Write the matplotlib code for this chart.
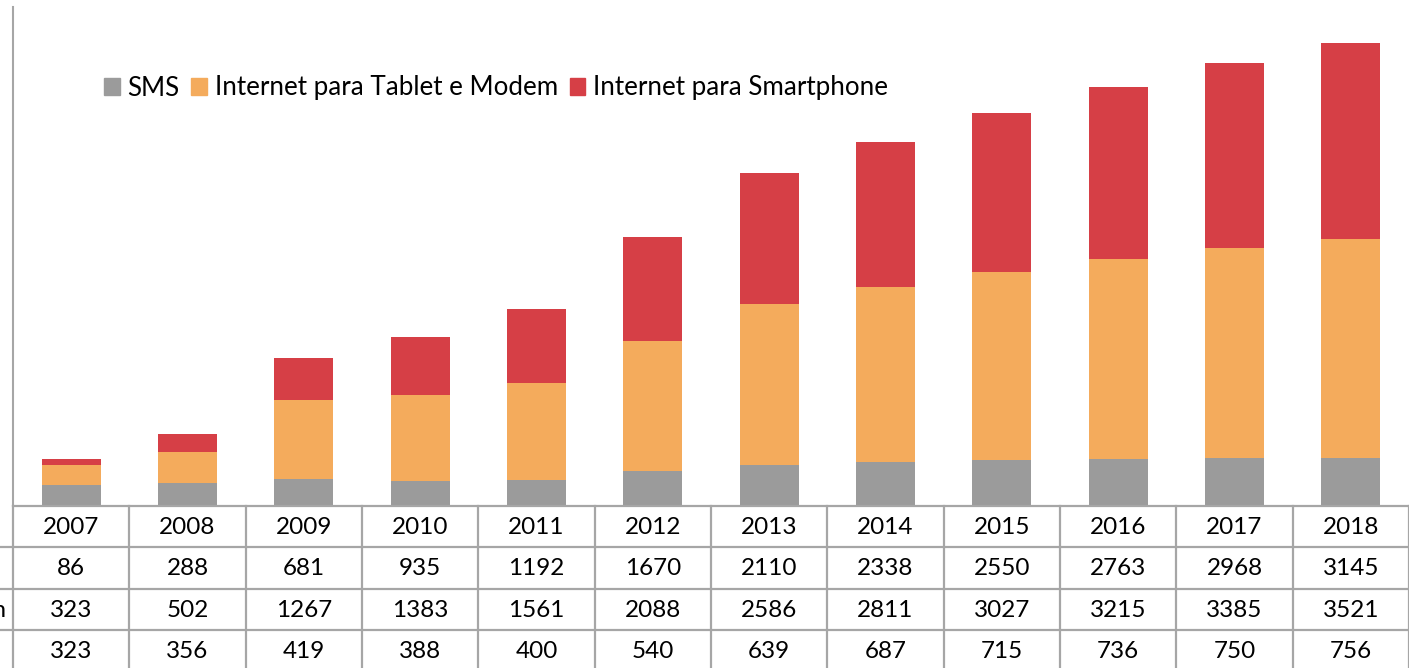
import matplotlib
matplotlib.use("Agg")
import matplotlib.pyplot as plt
from matplotlib.patches import Patch

plt.rcParams['font.family'] = ['Lato', 'DejaVu Sans']

# dados
anos = ["2007", "2008", "2009", "2010", "2011", "2012",
        "2013", "2014", "2015", "2016", "2017", "2018"]
smartphone = [86, 288, 681, 935, 1192, 1670, 2110, 2338, 2550, 2763, 2968, 3145]
tablet_modem = [323, 502, 1267, 1383, 1561, 2088, 2586, 2811, 3027, 3215, 3385, 3521]
sms = [323, 356, 419, 388, 400, 540, 639, 687, 715, 736, 750, 756]
series_names = ["SMS", "Internet para Tablet e Modem", "Internet para Smartphone"]

cor_sms = "#9b9b9b"
cor_tablet = "#f4ab5c"
cor_smart = "#d63f46"
cor_grade = "#a6a6a6"

W, H = 1409, 668
fig = plt.figure(figsize=(W / 100, H / 100), dpi=100)

# eixo em pixels: esquerda 13, base 505, topo 7
ax = fig.add_axes([13 / W, (H - 505) / H, (W - 13) / W, (505 - 7) / H])
x = list(range(len(anos)))
bw = 0.51
ax.bar(x, sms, bw, color=cor_sms)
ax.bar(x, tablet_modem, bw, bottom=sms, color=cor_tablet)
base3 = [a + b for a, b in zip(sms, tablet_modem)]
ax.bar(x, smartphone, bw, bottom=base3, color=cor_smart)

ax.set_xlim(-0.5, len(anos) - 0.5)
ax.set_ylim(0, 8000)
ax.set_xticks([])
ax.set_yticks([])
for s in ["top", "right", "bottom"]:
    ax.spines[s].set_visible(False)
ax.spines["left"].set_color(cor_grade)
ax.spines["left"].set_linewidth(1.5)

# legenda
handles = [Patch(color=c) for c in (cor_sms, cor_tablet, cor_smart)]
fig.legend(handles, series_names, loc="center left",
           bbox_to_anchor=(104 / W, (H - 88) / H), ncol=3, frameon=False,
           fontsize=18.7, handlelength=0.6, handleheight=0.6,
           handletextpad=0.3, columnspacing=0.45, borderaxespad=0,
           borderpad=0)

# tabela de dados (em pixels da figura)
def fx(p):
    return p / W
def fy(p):
    return (H - p) / H

col_w = (W - 13) / len(anos)
row_y = [505.5, 547, 588.5, 630, 671.5]
linhas = [anos, smartphone, tablet_modem, sms]
lw = 1.6
fig.add_artist(plt.Line2D([fx(13), 1], [fy(row_y[0])] * 2, color=cor_grade, lw=lw))
for yy in row_y[1:4]:
    fig.add_artist(plt.Line2D([0, 1], [fy(yy)] * 2, color=cor_grade, lw=lw))
for i in range(len(anos) + 1):
    xx = 13 + i * col_w
    fig.add_artist(plt.Line2D([fx(xx)] * 2, [fy(row_y[0]), 0], color=cor_grade, lw=lw))

for r, valores in enumerate(linhas):
    yc = (row_y[r] + row_y[r + 1]) / 2 + 1
    for i, v in enumerate(valores):
        xc = 13 + (i + 0.5) * col_w
        fig.text(fx(xc), fy(yc), str(v), ha="center", va="center", fontsize=17.5)

# rótulo da linha do meio, quase todo fora da figura (só o fim aparece, como no original)
fig.text(fx(6), fy((row_y[2] + row_y[3]) / 2 + 1), series_names[1],
         ha="right", va="center", fontsize=17.5)

fig.savefig("out.png", dpi=100)
